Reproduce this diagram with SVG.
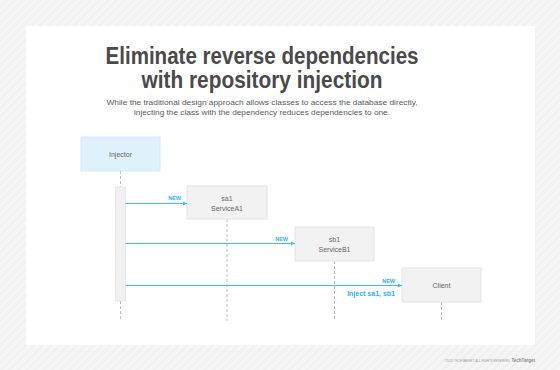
<svg xmlns="http://www.w3.org/2000/svg" width="560" height="370" viewBox="0 0 560 370">
<defs>
<pattern id="stripes" width="6" height="6" patternUnits="userSpaceOnUse" patternTransform="rotate(45)">
<rect width="6" height="6" fill="#f1f1f1"/>
<rect width="3" height="6" fill="#f6f6f6"/>
</pattern>
<marker id="arr" viewBox="0 0 6 6" refX="6" refY="3" markerWidth="4" markerHeight="4" orient="auto">
<path d="M0,0 L6,3 L0,6 z" fill="#3fbef2"/>
</marker>
<style>
.title{font-family:"Liberation Sans",Arial,sans-serif;font-weight:bold;font-size:23px;fill:#4a4a4a;text-anchor:middle}
.sub{font-family:"Liberation Sans",Arial,sans-serif;font-size:8px;fill:#5a5a5a;text-anchor:middle}
.box{fill:#f2f2f2;stroke:#e4e4e4;stroke-width:1}
.inj{fill:#dff1fb;stroke:#d2e9f6;stroke-width:1}
.lbl{font-family:"Liberation Sans",Arial,sans-serif;font-size:7px;fill:#666;text-anchor:middle}
.life{stroke:#bdbdbd;stroke-width:1;stroke-dasharray:3,2;fill:none}
.msg{stroke:#3fbef2;stroke-width:1;fill:none;marker-end:url(#arr)}
.new{font-family:"Liberation Sans",Arial,sans-serif;font-weight:bold;font-size:5.5px;fill:#29b3ef;text-anchor:end}
.inject{font-family:"Liberation Sans",Arial,sans-serif;font-weight:bold;font-size:7px;fill:#29b3ef;text-anchor:end}
.foot{font-family:"Liberation Sans",Arial,sans-serif;font-size:3px;fill:#999;text-anchor:end}
</style>
</defs>
<rect width="560" height="370" fill="url(#stripes)"/>
<rect x="26" y="26" width="509" height="319" fill="#ffffff"/>
<text class="title" x="262" y="64" textLength="313" lengthAdjust="spacingAndGlyphs">Eliminate reverse dependencies</text>
<text class="title" x="262" y="88" textLength="241" lengthAdjust="spacingAndGlyphs">with repository injection</text>
<text class="sub" x="262" y="105" textLength="311" lengthAdjust="spacingAndGlyphs">While the traditional design approach allows classes to access the database directly,</text>
<text class="sub" x="262" y="115" textLength="256" lengthAdjust="spacingAndGlyphs">injecting the class with the dependency reduces dependencies to one.</text>
<g id="lifelines">
<path class="life" d="M120.5,171 V187 M120.5,301 V321"/>
<path class="life" d="M227,219 V321"/>
<path class="life" d="M334.5,261 V321"/>
<path class="life" d="M441.5,302 V321"/>
</g>
<g id="injector">
<rect class="inj" x="81" y="137" width="79" height="34"/>
<text class="lbl" x="120.5" y="157">Injector</text>
<rect x="115.5" y="187" width="10" height="114" fill="#f1f1f1" stroke="#e4e4e4" stroke-width="0.8"/>
</g>
<g id="sa1">
<rect class="box" x="187" y="186" width="80" height="33"/>
<text class="lbl" x="227" y="201">sa1</text>
<text class="lbl" x="227" y="211">ServiceA1</text>
</g>
<g id="sb1">
<rect class="box" x="295" y="227" width="79" height="34"/>
<text class="lbl" x="334.5" y="242">sb1</text>
<text class="lbl" x="334.5" y="252">ServiceB1</text>
</g>
<g id="client">
<rect class="box" x="402" y="268" width="79" height="34"/>
<text class="lbl" x="441.5" y="287.5">Client</text>
</g>
<g id="connectors">
<path class="msg" d="M125.5,203.5 H187"/>
<text class="new" x="181" y="200">NEW</text>
<path class="msg" d="M125.5,243.5 H295"/>
<text class="new" x="288" y="241">NEW</text>
<path class="msg" d="M125.5,285.5 H402"/>
<text class="new" x="395" y="283">NEW</text>
<text class="inject" x="395" y="296">Inject sa1, sb1</text>
</g>
<text class="foot" x="510" y="361.5">©2022 TECHTARGET. ALL RIGHTS RESERVED</text>
<text x="535" y="361.5" font-family="'Liberation Sans',Arial,sans-serif" font-size="4.5" font-weight="bold" fill="#888" text-anchor="end">TechTarget</text>
</svg>
